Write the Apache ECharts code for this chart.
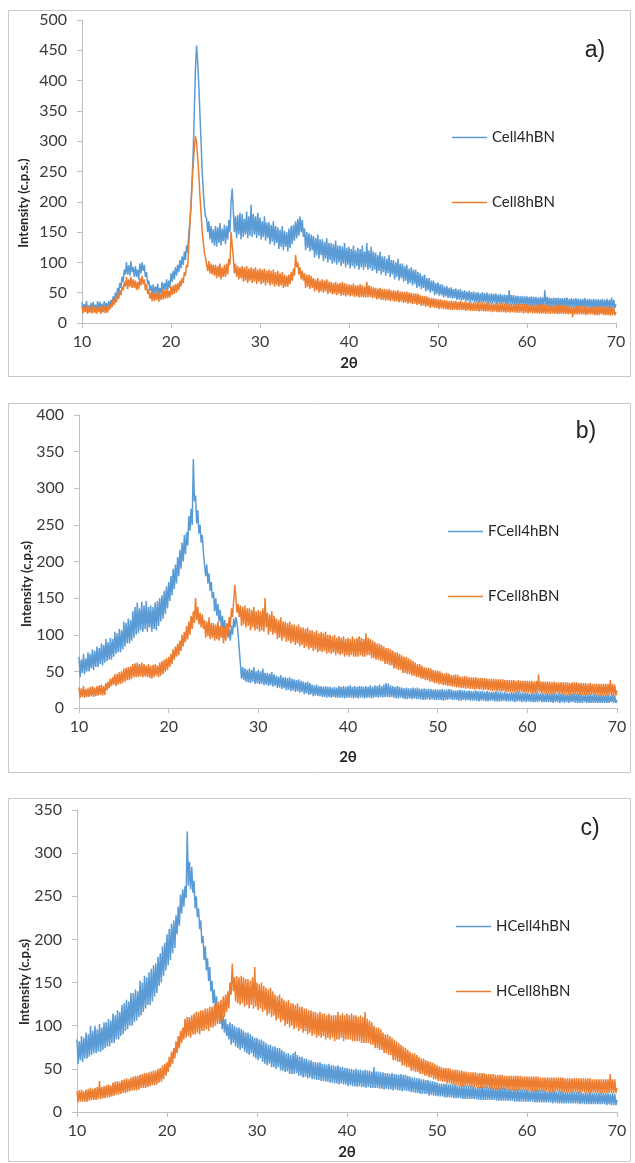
<!DOCTYPE html>
<html>
<head>
<meta charset="utf-8">
<script src="https://cdn.jsdelivr.net/npm/echarts@6/dist/echarts.min.js"></script>
<style>html,body{margin:0;padding:0;background:#fff;}#chart{width:635px;height:1163px;}</style>
</head>
<body>
<div id="chart"></div>
<script>
// Sampling grid of the diffractograms (2θ, degrees): 10 → 70 in 0.125° steps
const thetaStart = 10, thetaStep = 0.125, thetaCount = 481;
const twoTheta = Array.from({length: thetaCount}, (_, i) => +(thetaStart + i * thetaStep).toFixed(3));

const xTicks = {min: 10, max: 70, interval: 10};
const yTicks = {a: {min: 0, max: 500, interval: 50}, b: {min: 0, max: 400, interval: 50}, c: {min: 0, max: 350, interval: 50}};
const seriesNames = {a: ['Cell4hBN', 'Cell8hBN'], b: ['FCell4hBN', 'FCell8hBN'], c: ['HCell4hBN', 'HCell8hBN']};
const panelLabels = ['a)', 'b)', 'c)'];
const yTitles = ['Intensity (c.p.s.)', 'Intensity (c.p.s)', 'Intensity (c.p.s)'];
const xTitle = '2θ';

// Panel a — one row of eight readings per degree (10 … 69), then 70
const cell4hBN = [
34,20,31,23,36,19,29,22,
33,21,35,24,30,18,36,22,
35,21,32,19,36,24,33,22,
36,24,38,30,44,34,50,42,
58,48,66,58,76,68,88,80,
100,80,95,78,102,84,92,76,
94,76,88,72,98,82,100,86,
96,76,84,64,70,54,62,46,
64,47,60,50,65,46,58,49,
68,52,66,55,72,54,70,58,
82,68,86,72,92,78,96,84,
104,90,110,96,118,104,128,116,
148,168,196,236,285,352,420,458,
430,392,345,300,252,218,192,176,
172,150,168,138,160,132,155,128,
160,126,158,132,165,128,156,135,
162,130,160,138,170,150,200,222,
185,150,176,140,178,146,182,138,
180,142,172,146,184,140,176,144,
195,142,180,146,176,140,182,144,
174,138,168,142,176,136,166,140,
166,130,162,134,168,128,160,132,
158,122,154,126,160,120,152,126,
150,118,156,124,160,130,162,136,
168,140,172,144,176,150,170,142,
156,120,150,124,148,118,146,120,
144,108,140,112,146,106,138,112,
138,102,134,106,140,100,132,104,
132,98,130,100,136,96,128,100,
128,94,126,98,132,92,124,96,
126,90,122,94,128,90,120,94,
124,88,122,92,128,88,118,92,
132,88,120,90,126,86,118,88,
116,82,112,86,118,80,110,84,
110,78,106,82,112,76,104,80,
104,72,100,76,106,70,98,74,
98,68,94,70,96,64,90,66,
92,62,88,64,88,58,84,60,
82,56,78,58,80,52,74,54,
74,50,70,52,70,46,66,48,
67,45,64,46,64,42,60,44,
61,41,58,42,59,40,56,41,
57,38,55,39,56,37,53,38,
54,35,52,37,53,34,51,36,
52,34,50,35,51,33,49,34,
51,33,49,34,50,32,48,33,
49,32,48,33,49,31,47,32,
48,31,47,32,47,30,46,31,
54,30,46,31,46,29,45,30,
45,29,44,30,45,29,44,29,
44,28,43,29,44,28,43,28,
43,28,42,28,43,27,42,28,
54,27,43,28,42,27,41,28,
42,27,41,27,42,26,41,27,
41,26,41,27,42,26,40,27,
41,26,40,26,41,25,40,26,
40,25,40,26,41,25,39,26,
40,25,39,25,40,24,39,25,
39,25,39,24,40,24,38,25,
40,24,38,25,42,24,38,25,
31];
const cell8hBN = [
28,16,26,18,29,15,25,17,
27,16,29,17,26,15,28,18,
28,15,27,18,29,16,26,17,
29,22,32,26,38,30,42,34,
48,40,54,46,60,54,68,60,
76,56,72,60,76,58,72,58,
70,54,68,56,74,62,78,64,
72,54,64,48,56,40,50,36,
52,36,50,38,53,35,48,38,
55,39,54,40,57,41,53,42,
60,46,62,48,64,50,66,54,
70,60,74,66,84,78,96,92,
128,162,194,232,262,288,308,298,
272,246,210,182,152,134,116,108,
110,86,102,82,98,80,96,78,
96,74,94,76,98,72,92,76,
96,76,98,80,106,96,150,128,
110,82,98,76,94,72,92,74,
94,68,92,70,94,66,90,70,
92,66,90,68,92,64,88,68,
90,64,88,66,90,62,86,66,
88,62,86,64,88,60,84,62,
86,60,82,62,84,58,80,60,
78,60,80,64,84,70,90,78,
112,92,100,80,92,72,86,70,
82,58,80,60,80,56,78,58,
74,52,72,54,74,50,70,52,
72,50,70,52,72,48,68,50,
68,47,66,48,68,46,65,48,
66,45,68,46,66,44,64,46,
64,44,63,45,65,43,62,44,
62,42,64,43,62,42,60,42,
68,42,62,43,60,41,59,42,
58,39,57,40,58,38,56,38,
56,37,55,38,56,36,54,37,
54,35,53,36,54,34,52,35,
52,33,51,34,52,32,50,33,
50,31,49,32,49,30,48,31,
46,28,45,29,45,27,44,28,
42,25,41,26,41,25,40,25,
39,23,39,24,38,23,38,23,
37,22,36,22,37,21,36,22,
36,21,35,21,36,21,35,21,
35,20,34,21,35,20,34,20,
34,20,34,20,35,19,34,20,
34,19,33,19,34,19,33,19,
33,18,32,19,33,18,32,18,
33,18,32,18,32,17,32,18,
32,17,31,18,32,17,31,17,
32,17,31,17,31,16,31,17,
31,16,30,17,31,16,30,16,
30,16,30,16,31,15,30,16,
30,15,30,16,30,15,30,16,
29,15,29,15,30,15,29,15,
29,15,28,15,29,14,28,15,
28,9,28,14,28,14,28,14,
28,14,27,14,28,13,27,14,
27,14,27,14,28,13,27,13,
27,13,27,14,27,13,26,13,
27,13,28,12,27,13,26,13,
18];

// Panel b
const fcell4hBN = [
70,42,66,48,74,46,68,50,
76,50,74,54,80,52,78,56,
84,56,82,60,88,58,86,62,
94,64,90,66,96,66,94,70,
104,74,102,76,108,76,106,80,
118,84,116,88,122,88,120,92,
132,96,138,100,144,102,136,106,
145,104,140,108,146,104,138,110,
140,104,138,108,144,106,146,112,
150,118,154,122,160,128,166,136,
172,146,180,154,190,162,196,170,
206,180,216,190,226,200,236,210,
240,222,262,242,272,250,340,282,
290,252,270,238,250,226,236,212,
210,180,196,170,184,160,172,150,
158,132,150,126,142,118,134,110,
126,104,120,100,114,96,108,92,
112,100,122,110,124,116,100,80,
60,40,56,38,54,36,52,35,
54,34,52,36,56,33,50,34,
52,32,50,33,54,31,48,32,
48,30,47,31,49,29,46,30,
44,27,43,28,45,26,42,27,
42,24,41,25,42,23,40,24,
39,22,38,23,39,21,37,22,
36,19,35,20,36,18,34,19,
32,16,31,17,32,16,30,16,
30,15,29,15,30,14,29,15,
29,14,28,15,29,14,28,14,
30,14,29,14,30,13,29,14,
30,14,31,14,29,13,30,14,
29,13,30,14,30,14,29,13,
30,14,29,14,31,13,29,14,
31,15,30,14,32,15,30,14,
32,15,34,15,33,14,31,15,
30,14,29,13,30,13,29,14,
28,13,27,12,28,12,27,13,
27,12,28,13,27,12,28,12,
26,12,26,11,27,11,26,12,
26,11,26,12,25,11,26,11,
25,11,25,11,26,10,25,11,
25,11,26,12,25,11,24,11,
24,11,24,10,25,10,24,11,
24,10,23,11,24,10,23,10,
23,10,24,10,23,9,23,10,
23,10,22,9,23,9,22,10,
22,10,22,9,23,9,22,9,
22,9,21,10,22,9,21,9,
21,9,22,9,21,8,21,9,
22,9,21,8,21,9,21,8,
21,9,20,8,21,8,20,8,
21,8,20,9,20,8,20,8,
20,8,21,8,20,8,20,7,
20,8,19,8,20,7,19,8,
20,7,19,8,19,7,19,8,
19,8,20,7,19,7,19,7,
19,7,18,8,19,7,18,7,
19,7,18,7,19,7,18,7,
18,7,19,7,18,7,18,7,
18,7,17,8,18,7,17,7,
11];
const fcell8hBN = [
28,14,27,15,30,14,26,15,
27,15,29,16,30,15,28,16,
30,17,31,18,32,17,30,18,
34,24,36,27,40,30,42,32,
46,30,47,32,49,33,50,34,
54,36,55,38,56,38,57,40,
60,42,61,42,62,42,60,43,
62,42,60,43,58,42,60,41,
58,40,59,42,60,44,58,42,
62,44,64,46,66,50,68,52,
70,56,74,60,80,66,84,70,
88,72,92,78,100,84,104,90,
112,94,118,100,126,108,132,116,
150,120,138,114,130,110,128,108,
120,96,118,98,124,94,116,96,
116,92,114,94,118,92,112,96,
112,88,110,92,116,100,124,110,
136,124,146,168,150,130,142,124,
140,112,138,114,140,110,136,112,
136,106,134,110,138,106,132,108,
134,104,132,106,136,104,150,110,
130,100,128,104,132,100,126,102,
122,94,120,96,124,92,118,96,
118,90,116,92,118,88,114,90,
114,86,112,88,114,84,110,86,
110,82,108,84,110,80,106,82,
106,78,104,80,106,76,102,78,
104,76,102,78,104,74,100,76,
100,74,98,76,100,72,96,74,
98,72,96,74,98,70,94,72,
96,70,94,72,98,70,94,70,
96,70,98,72,96,70,94,70,
102,72,96,72,94,68,92,68,
90,66,88,66,88,64,86,64,
84,60,82,60,82,58,80,58,
78,54,76,54,76,52,74,52,
72,48,70,48,70,46,68,46,
66,44,64,44,62,42,60,42,
60,40,58,40,56,38,55,38,
55,36,54,36,52,34,51,34,
51,32,50,33,48,31,47,31,
48,30,47,30,45,29,45,29,
46,28,45,28,43,27,43,27,
44,26,43,27,42,26,42,26,
42,25,42,26,41,25,41,25,
41,24,41,25,40,24,40,24,
40,23,40,24,39,23,39,23,
39,22,39,23,38,22,38,22,
38,22,38,22,38,21,37,21,
38,21,37,22,37,21,37,21,
37,21,37,21,37,20,36,20,
37,20,46,21,36,20,36,20,
36,20,36,20,36,19,35,19,
36,19,35,20,35,19,35,19,
35,19,35,19,35,18,34,18,
35,18,35,19,35,18,34,18,
34,18,34,18,34,18,33,18,
34,18,33,18,33,17,33,17,
33,17,33,18,33,17,33,17,
33,17,38,17,33,16,32,17,
24];

// Panel c
const hcell4hBN = [
84,56,82,60,88,58,86,62,
92,62,90,64,100,66,94,68,
100,68,96,70,102,70,98,72,
104,74,104,76,108,76,106,80,
114,80,112,84,118,84,116,88,
124,90,126,94,130,96,128,100,
138,100,138,104,142,106,140,110,
152,112,150,116,158,120,156,124,
162,124,166,128,170,134,172,138,
180,146,184,150,192,158,196,164,
206,170,212,176,218,184,222,190,
228,206,238,216,252,230,258,238,
262,248,325,262,290,258,284,254,
268,236,250,226,236,212,222,196,
204,176,192,164,178,152,168,140,
152,126,142,118,134,110,124,102,
118,96,112,92,108,88,102,84,
104,78,102,80,100,76,98,74,
98,72,96,74,94,70,92,68,
92,66,90,68,88,64,86,62,
86,60,84,62,84,58,82,56,
80,54,78,56,78,52,76,52,
76,50,74,52,74,48,72,48,
70,46,68,47,68,44,66,44,
68,44,70,45,66,42,64,42,
64,40,62,41,62,39,60,40,
60,38,58,38,58,37,57,37,
58,36,56,36,56,35,55,35,
56,34,54,34,54,33,53,33,
54,32,52,33,52,32,51,32,
51,30,50,31,50,30,49,30,
50,29,49,30,49,29,48,29,
49,28,48,29,48,28,47,28,
52,28,47,28,47,27,46,27,
46,26,45,27,45,26,44,26,
45,25,44,26,44,25,43,25,
44,24,43,25,43,24,42,24,
41,23,40,23,40,22,39,22,
39,21,38,21,38,21,37,21,
37,19,36,20,36,19,35,19,
34,18,33,18,33,18,33,17,
33,17,32,17,32,17,32,16,
32,16,31,16,31,16,31,15,
31,15,30,15,30,15,30,15,
30,15,29,15,29,14,29,14,
30,14,29,14,29,14,28,14,
29,14,28,14,28,13,28,13,
28,13,28,13,28,13,27,13,
27,13,27,13,27,12,27,12,
27,12,26,12,26,12,26,12,
26,12,25,12,26,12,25,11,
26,11,25,11,25,11,25,11,
25,11,24,11,25,11,24,10,
25,11,24,10,24,10,24,10,
24,10,23,10,24,10,23,10,
24,10,23,10,23,10,23,9,
23,10,22,9,23,9,22,9,
23,9,22,9,22,9,22,9,
22,9,23,9,22,9,22,8,
22,9,21,8,22,8,21,8,
14];
const hcell8hBN = [
24,11,25,12,26,12,24,12,
26,12,27,13,28,14,27,14,
28,14,29,15,36,15,29,16,
30,16,31,17,32,17,31,18,
34,19,35,20,36,20,35,21,
37,22,38,22,39,23,38,24,
40,25,41,25,42,25,42,26,
43,28,44,28,45,28,45,29,
46,30,47,31,48,31,48,32,
50,34,51,35,54,38,56,42,
58,46,64,52,70,56,74,62,
82,68,88,74,94,80,98,84,
108,86,110,88,110,86,112,90,
114,90,116,92,116,90,118,94,
118,94,120,96,120,94,122,98,
122,98,124,100,126,102,128,104,
130,106,134,110,136,116,140,120,
150,136,172,140,156,128,158,126,
156,124,158,126,156,122,154,124,
154,120,152,124,156,120,168,122,
150,118,148,120,150,116,146,118,
144,112,142,114,144,110,140,112,
136,106,134,108,136,104,132,106,
130,100,128,102,130,98,126,100,
126,96,124,98,126,94,122,96,
122,92,120,94,120,90,118,92,
118,88,116,90,116,86,114,88,
116,86,114,88,114,84,112,86,
114,84,112,86,112,82,112,84,
116,84,112,86,114,82,112,84,
114,84,112,84,114,82,112,82,
112,82,110,82,112,80,110,80,
116,80,108,80,106,78,104,78,
100,74,98,74,98,72,96,72,
92,68,90,68,90,66,88,66,
86,60,84,60,82,58,80,58,
78,54,76,54,74,52,72,52,
70,48,68,48,68,46,66,46,
64,44,62,44,62,42,60,42,
59,40,58,40,57,38,56,38,
54,36,53,36,52,35,51,35,
51,33,51,33,50,32,49,32,
49,31,49,31,48,30,48,30,
47,30,47,30,46,29,46,29,
46,29,46,29,45,28,45,28,
45,28,45,28,44,27,44,27,
44,27,44,27,43,26,43,26,
43,26,43,26,42,26,42,26,
42,26,42,26,42,25,42,25,
42,25,42,25,41,25,41,25,
41,25,41,25,41,24,41,24,
41,24,41,24,40,24,40,24,
40,24,40,24,40,23,40,23,
40,24,40,24,40,23,40,23,
40,23,39,23,39,23,39,23,
39,23,39,23,39,22,39,22,
39,23,39,23,39,22,39,22,
39,22,38,22,38,22,38,22,
38,22,38,22,38,22,38,22,
38,22,44,22,38,22,38,22,
28];

const BLUE = '#5B9BD5', ORANGE = '#ED7D31';
const TXT = '#3a3a3a', AXIS = '#bfbfbf', FRAME = '#cfc7c7';
const FONT = 'Lato, "Open Sans", sans-serif';

const grids = [
  {left: 82, top: 20, width: 534, height: 303},
  {left: 79, top: 415, width: 538, height: 293},
  {left: 77, top: 810, width: 540, height: 302}
];
const frames = [[8, 10, 622, 366], [8, 403, 622, 369], [8, 798, 622, 363]];
const legendPos = [{left: 447, top: 124}, {left: 443, top: 518}, {left: 451, top: 913}];
const labelPos = [[595, 51], [586, 432], [590, 829]];
const yTitlePos = [[24, 203], [27, 584], [25, 982]];
const xTitlePos = [[349, 363], [348, 757], [347, 1152]];

const panels = [
  {y: yTicks.a, names: seriesNames.a, data: [cell4hBN, cell8hBN]},
  {y: yTicks.b, names: seriesNames.b, data: [fcell4hBN, fcell8hBN]},
  {y: yTicks.c, names: seriesNames.c, data: [hcell4hBN, hcell8hBN]}
];

const pair = vals => twoTheta.map((t, i) => [t, vals[i]]).filter(p => p[1] !== undefined);

const option = {
  animation: false,
  grid: grids.map(g => Object.assign({containLabel: false}, g)),
  xAxis: panels.map((p, i) => ({
    type: 'value', gridIndex: i, min: xTicks.min, max: xTicks.max, interval: xTicks.interval,
    axisLine: {show: true, onZero: false, lineStyle: {color: AXIS, width: 1}},
    axisTick: {show: true, length: 5, lineStyle: {color: AXIS}},
    axisLabel: {color: TXT, fontSize: 16, fontFamily: FONT, margin: 11},
    splitLine: {show: false}
  })),
  yAxis: panels.map((p, i) => ({
    type: 'value', gridIndex: i, min: p.y.min, max: p.y.max, interval: p.y.interval,
    axisLine: {show: true, lineStyle: {color: AXIS, width: 1}},
    axisTick: {show: true, length: 5, lineStyle: {color: AXIS}},
    axisLabel: {color: TXT, fontSize: 16, fontFamily: FONT, margin: 15},
    splitLine: {show: false}
  })),
  legend: panels.map((p, i) => ({
    data: p.names, orient: 'vertical', left: legendPos[i].left, top: legendPos[i].top,
    itemGap: 48, itemWidth: 35, itemHeight: 1.5, icon: 'rect',
    textStyle: {color: '#262626', fontSize: 15, fontFamily: FONT, lineHeight: 17}
  })),
  series: panels.flatMap((p, i) => p.data.map((vals, k) => ({
    name: p.names[k], type: 'line', xAxisIndex: i, yAxisIndex: i,
    data: pair(vals), showSymbol: false, symbol: 'none',
    lineStyle: {color: k === 0 ? BLUE : ORANGE, width: 1.5},
    itemStyle: {color: k === 0 ? BLUE : ORANGE},
    z: 2 + k
  }))),
  graphic: [
    ...frames.map(f => ({type: 'rect', silent: true, z: -1,
      shape: {x: f[0] + 0.5, y: f[1] + 0.5, width: f[2], height: f[3]},
      style: {fill: 'none', stroke: FRAME, lineWidth: 1}})),
    ...panelLabels.map((t, i) => ({type: 'text', x: labelPos[i][0], y: labelPos[i][1],
      style: {text: t, fill: '#222', font: '23px "Liberation Sans", Arial, sans-serif', textAlign: 'center', textVerticalAlign: 'middle'}})),
    ...yTitles.map((t, i) => ({type: 'text', x: yTitlePos[i][0], y: yTitlePos[i][1], rotation: Math.PI / 2,
      style: {text: t, fill: '#262626', font: 'bold 13px ' + FONT, textAlign: 'center', textVerticalAlign: 'middle'}})),
    ...xTitlePos.map(p => ({type: 'text', x: p[0], y: p[1],
      style: {text: xTitle, fill: '#262626', font: 'bold 15px ' + FONT, textAlign: 'center', textVerticalAlign: 'middle'}}))
  ]
};

const chart = echarts.init(document.getElementById('chart'), null, {renderer: 'canvas'});
chart.setOption(option);
</script>
</body>
</html>
